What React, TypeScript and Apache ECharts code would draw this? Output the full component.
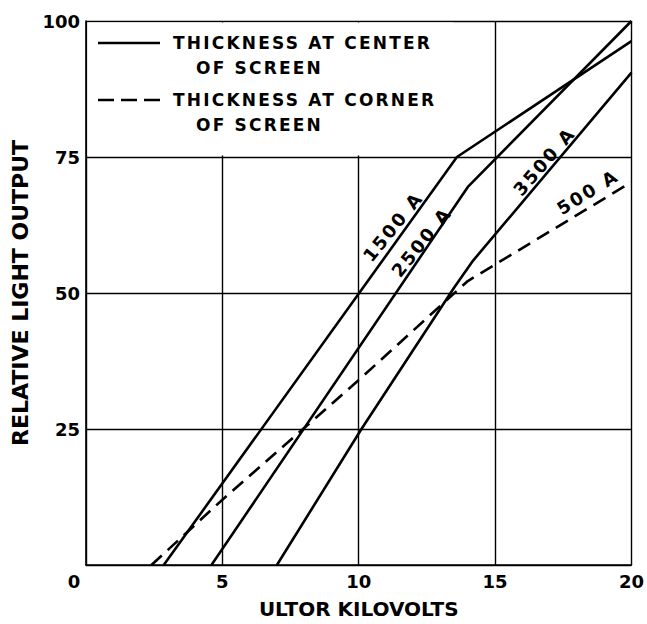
import React, { useEffect, useRef } from "react";
import * as echarts from "echarts";

// ---- data ----
const xTicks = [0, 5, 10, 15, 20];
const yTicks = [0, 25, 50, 75, 100];
const center1500: number[][] = [[2.85, 0], [13.6, 75], [20, 96.3]];
const center2500: number[][] = [[4.6, 0], [14.0, 69.5], [20, 100]];
const center3500: number[][] = [[7.0, 0], [10.1, 25], [13.5, 51], [14.2, 56], [20, 90.5]];
const corner500: number[][] = [[2.4, 0], [5, 12], [8.3, 26.5], [10, 34], [13.4, 49.5], [14, 52.2], [20, 70.4]];
const seriesNames = ["1500 A", "2500 A", "3500 A", "500 A"];
const labelAnchors: number[][] = [[11.25, 62.2], [12.3, 59.4], [16.8, 74.2], [18.4, 68.6]];
const labelAngles = [51, 51, 49, 32];
const legendCenter = ["THICKNESS AT CENTER", "OF SCREEN"];
const legendCorner = ["THICKNESS AT CORNER", "OF SCREEN"];
const xTitle = "ULTOR KILOVOLTS";
const yTitle = "RELATIVE LIGHT OUTPUT";

const FONT = "'DejaVu Sans', sans-serif";
const FONT_SP = "'DejaVu Sans', lsp";

export default function App() {
  const ref = useRef<HTMLDivElement>(null);

  useEffect(() => {
    if (!ref.current) return;
    const chart = echarts.init(ref.current, undefined, { renderer: "svg" });
    const lineStyleSolid = { color: "#000", width: 2.6, type: "solid" as const };
    const option: any = {
      animation: false,
      backgroundColor: "#fff",
      grid: { left: 86, right: 14, top: 21, bottom: 56, containLabel: false },
      xAxis: {
        type: "value",
        min: xTicks[0],
        max: xTicks[xTicks.length - 1],
        interval: 5,
        name: xTitle,
        nameLocation: "middle",
        nameGap: 34,
        nameTextStyle: { color: "#000", fontSize: 20, fontWeight: "bold", fontFamily: FONT },
        axisLine: { show: true, lineStyle: { color: "#000", width: 1.6 } },
        axisTick: { show: false },
        axisLabel: {
          color: "#000",
          fontSize: 18,
          fontWeight: "bold",
          fontFamily: FONT,
          margin: 7,
          formatter: (v: number) => (v === 0 ? `{o|${v}}` : `${v}`),
          rich: { o: { fontSize: 18, fontWeight: "bold", fontFamily: FONT, color: "#000", padding: [0, 24, 0, 0] } },
        },
        splitLine: { show: true, lineStyle: { color: "#000", width: 1.4 } },
      },
      yAxis: {
        type: "value",
        min: yTicks[0],
        max: yTicks[yTicks.length - 1],
        interval: 25,
        name: yTitle,
        nameLocation: "middle",
        nameGap: 52,
        nameTextStyle: { color: "#000", fontSize: 22, fontWeight: "bold", fontFamily: FONT },
        axisLine: { show: true, lineStyle: { color: "#000", width: 1.6 } },
        axisTick: { show: false },
        axisLabel: {
          color: "#000",
          fontSize: 18,
          fontWeight: "bold",
          fontFamily: FONT,
          margin: 6,
          showMinLabel: false,
          formatter: (v: number) => (v === 0 ? "" : `${v}`),
        },
        splitLine: { show: true, lineStyle: { color: "#000", width: 1.4 } },
      },
      series: [
        { name: seriesNames[0], type: "line", data: center1500, symbol: "none", lineStyle: lineStyleSolid, z: 3 },
        { name: seriesNames[1], type: "line", data: center2500, symbol: "none", lineStyle: lineStyleSolid, z: 3 },
        { name: seriesNames[2], type: "line", data: center3500, symbol: "none", lineStyle: lineStyleSolid, z: 3 },
        {
          name: seriesNames[3],
          type: "line",
          data: corner500,
          symbol: "none",
          lineStyle: { color: "#000", width: 2.6, type: [14, 8] },
          z: 3,
        },
      ],
    };
    chart.setOption(option);

    const labelEls = seriesNames.map((name, i) => {
      const p = chart.convertToPixel({ gridIndex: 0 }, labelAnchors[i]) as number[];
      return {
        type: "text",
        x: p[0],
        y: p[1],
        rotation: (labelAngles[i] * Math.PI) / 180,
        z: 10,
        style: {
          text: name,
          fontSize: 18,
          fontWeight: "bold",
          fontFamily: FONT_SP,
          fill: "#000",
          align: "center",
          verticalAlign: "middle",
        },
      };
    });

    const txt = (text: string, x: number, y: number) => ({
      type: "text",
      z: 10,
      x,
      y,
      style: { text, fontSize: 17, fontWeight: "bold", fontFamily: FONT_SP, fill: "#000", verticalAlign: "middle" },
    });

    const legendEls: any[] = [
      { type: "rect", z: 1, shape: { x: 87.5, y: 22.5, width: 366, height: 133 }, style: { fill: "#fff" } },
      { type: "line", z: 10, shape: { x1: 98, y1: 43, x2: 160, y2: 43 }, style: { stroke: "#000", lineWidth: 2.6 } },
      {
        type: "line",
        z: 10,
        shape: { x1: 98, y1: 100, x2: 160, y2: 100 },
        style: { stroke: "#000", lineWidth: 2.6, lineDash: [16, 7] },
      },
      txt(legendCenter[0], 173, 43),
      txt(legendCenter[1], 196, 68),
      txt(legendCorner[0], 173, 100),
      txt(legendCorner[1], 196, 125),
    ];

    chart.setOption({ graphic: [...legendEls, ...labelEls] });

    return () => chart.dispose();
  }, []);

  return (
    <>
      <style>{`text[style*="lsp"]{letter-spacing:2.2px}`}</style>
      <div
        ref={ref}
        style={{ position: "fixed", left: 0, top: 0, width: 647, height: 624, background: "#fff" }}
      />
    </>
  );
}
